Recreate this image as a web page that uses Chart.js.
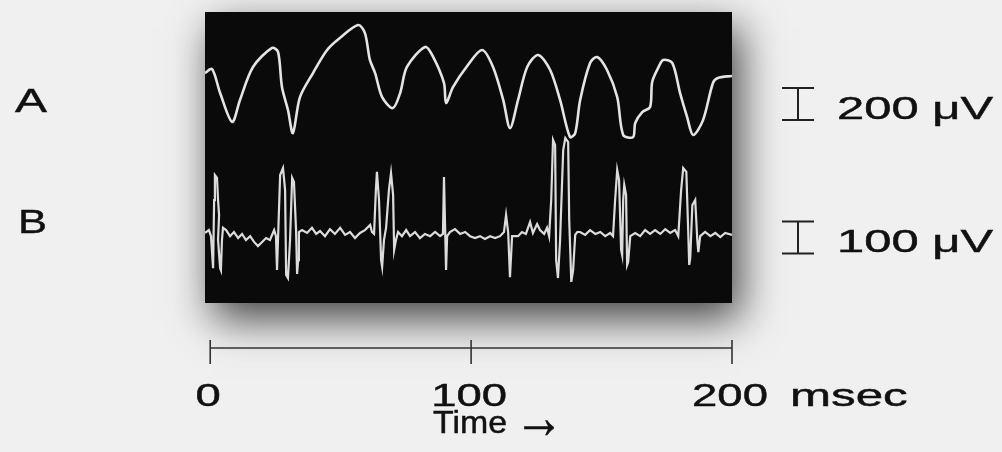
<!DOCTYPE html>
<html>
<head>
<meta charset="utf-8">
<script src="https://cdn.jsdelivr.net/npm/chart.js@4"></script>
<style>
  body { margin: 0; background: #f0f0f0; }
  canvas { display: block; }
</style>
</head>
<body>
<canvas id="trace" width="1002" height="452"></canvas>
<script>
// trace A: slow wave (time in msec, amplitude in microvolts)
var timeA = [-2.0, 0.7, 3.8, 8.4, 11.4, 16.4, 23.7, 26.0, 27.5, 29.8, 31.7, 34.4, 39.4, 44.8, 49.7, 56.7, 59.3, 61.2, 63.2, 65.9,
  70.0, 72.8, 75.4, 82.4, 85.5, 89.6, 90.4, 93.1, 98.5, 104.2, 108.4, 112.3, 114.9, 118.0, 121.5, 125.7, 130.3, 134.1, 137.9, 139.9,
  141.8, 145.6, 148.3, 152.1, 156.0, 158.3, 162.1, 162.9, 165.6, 168.6, 169.4, 171.7, 173.6, 177.1, 180.1, 182.8, 185.1, 188.9, 192.7, 194.6, 200.0];
var voltA = [106, 131, -19, -200, -62, 144, 263, 238, 19, -125, -269, -44, 106, 250, 325, 406, 356, 188, 106, -44,
  -113, -19, 144, 269, 206, 44, -81, 19, 150, 250, 144, -62, -238, -62, 144, 219, 125, -62, -294, -269,
  -62, 169, 206, 125, -44, -281, -294, -206, -138, -106, 50, 138, 188, 169, -19, -169, -281, -188, 44, 75, 88];

// trace B: unit spikes on a noisy baseline, several sweeps overlaid
var timeB = [-2.0, -0.5, 0.3, 1.1, 1.5, 1.8, 2.6, 3.0, 3.4, 3.0, 3.8, 4.1, 4.5, 4.9,
  6.1, 7.6, 9.1, 10.7, 12.2, 13.7, 15.3, 16.8, 18.3, 19.9, 21.4, 22.9, 24.5,
  25.2, 25.6, 26.8, 27.9, 28.7, 29.1, 29.8, 30.6, 31.4, 32.1, 32.9, 33.3, 33.7, 34.0,
  35.2, 37.1, 39.0, 40.6, 42.1, 44.0, 45.9, 47.8, 49.8, 51.7, 53.6, 55.5, 57.4, 59.3, 61.3, 62.0,
  62.8, 63.5, 63.9, 64.7, 65.5, 65.9, 66.6, 67.4, 68.5, 69.3, 70.1, 70.5, 71.2, 72.0,
  73.5, 75.1, 76.6, 78.5, 80.4, 82.3, 84.3, 86.2, 88.1,
  89.2, 89.6, 90.4, 90.8,
  91.9, 93.8, 95.8, 97.7, 99.6, 101.5, 103.4, 105.3, 107.3, 109.2, 111.1, 112.6,
  113.4, 114.2, 114.9, 115.7,
  118.0, 119.5, 121.0, 122.6, 123.7, 125.3, 126.4, 128.0, 129.1,
  129.9, 130.7, 131.4, 132.2, 132.6, 133.3, 134.1, 135.3, 136.1, 137.2, 137.6, 138.4, 139.1, 139.9, 140.7,
  141.8, 143.7, 145.6, 147.6, 149.5, 151.4, 153.3,
  154.4, 155.2, 156.0, 156.7, 157.5, 157.9, 158.3, 158.7, 159.4, 159.8, 160.2, 161.0,
  162.9, 164.8, 166.7, 168.6, 170.5, 172.5, 174.4, 176.3, 178.2,
  179.4, 180.5, 181.3, 182.5, 183.2, 183.6, 184.0, 184.8, 185.9, 186.7, 187.1, 187.8,
  189.7, 191.7, 193.6, 195.5, 197.4, 200.0];
var voltB = [-3, 6, -13, -113, 100, 178, 169, 100, 53, -25, -113, -119, -25, 13,
  6, -13, 0, -19, -6, -25, -13, -31, -44, -31, -19, -25, 6,
  -13, -119, 178, 200, 131, -134, -144, -25, 169, 156, 6, -131, -88, 0,
  6, -3, 13, -6, 3, -13, 9, -6, 13, -9, 0, -19, -3, 6, 22, 0,
  -6, 131, 188, 100, -88, -109, -25, 13, 131, 184, 116, -56, -25, 0,
  -13, 6, -13, 0, -19, -6, -13, 0, -13,
  -6, 172, -119, -13,
  0, 9, -6, 0, -13, -19, -13, -22, -13, -19, -13, 0,
  53, 0, -141, -13,
  -13, 0, -6, 31, -3, 25, 6, -6, 13,
  -13, 100, 288, 272, -88, -144, -25, 256, 294, 281, 38, -156, -119, -9, 0,
  0, -9, 6, -6, 0, -13, -3,
  -13, 100, 194, 163, -56, -72, 100, 147, 116, -103, -94, -13,
  -3, -13, 6, -6, 6, -6, 9, -3, 6,
  -13, 131, 200, 188, 6, -103, -81, 84, 100, -25, -63, -13,
  0, -13, -3, -16, -3, -9];

var traceNames = ['A', 'B'];
var timeTicks = [0, 100, 200];
var tickLabels = ['0', '100', '200'];
var timeUnit = 'msec';
var timeTitle = 'Time';
var timeArrow = '\u2192';
var barValues = [200, 100];
var barLabels = ['200 \u03bcV', '100 \u03bcV'];

function pairs(xs, ys) {
  return xs.map(function(x, i) { return { x: x, y: ys[i] }; });
}

// text in the figure is set wide: stretch it sideways, with a thin outline for weight
function wideText(ctx, text, x, y, sx, align, weight, sy) {
  ctx.save();
  ctx.translate(x, y);
  ctx.scale(sx, sy || 1);
  ctx.textAlign = align || 'left';
  ctx.fillText(text, 0, 0);
  if (weight !== 0) {
    ctx.lineWidth = weight || 0.45;
    ctx.strokeStyle = ctx.fillStyle;
    ctx.strokeText(text, 0, 0);
  }
  ctx.restore();
}

function fitText(ctx, text, x, y, w, weight, sy) {
  var m = ctx.measureText(text).width;
  wideText(ctx, text, x, y, w / m, 'left', weight, sy);
}

var scopeFrame = {
  id: 'scopeFrame',
  beforeDraw: function(chart) {
    var ctx = chart.ctx, a = chart.chartArea;
    ctx.save();
    ctx.fillStyle = '#f0f0f0';
    ctx.fillRect(0, 0, chart.width, chart.height);
    ctx.shadowColor = 'rgba(0,0,0,0.72)';
    ctx.shadowBlur = 40;
    ctx.shadowOffsetX = 8;
    ctx.shadowOffsetY = 16;
    ctx.fillStyle = '#0a0a0a';
    ctx.fillRect(a.left, a.top, a.right - a.left, a.bottom - a.top);
    ctx.restore();
  },
  afterDraw: function(chart) {
    var ctx = chart.ctx;
    var x = chart.scales.x, yA = chart.scales.yA, yB = chart.scales.yB;
    ctx.save();
    ctx.fillStyle = '#111';
    ctx.textBaseline = 'alphabetic';

    // trace names
    ctx.font = '34px "Liberation Sans", Arial, sans-serif';
    fitText(ctx, traceNames[0], 15, 112, 32);
    fitText(ctx, traceNames[1], 18, 233, 29);

    // calibration bars, sized from each trace's own scale
    var bars = [
      { axis: yA, mid: 104, base: 119 },
      { axis: yB, mid: 237.5, base: 252 }
    ];
    ctx.font = '32px "Liberation Sans", Arial, sans-serif';
    bars.forEach(function(b, i) {
      var h = Math.abs(b.axis.getPixelForValue(0) - b.axis.getPixelForValue(barValues[i]));
      var top = b.mid - h / 2, bot = b.mid + h / 2;
      var cx = 798, half = 16;
      ctx.lineWidth = 2;
      ctx.strokeStyle = '#222';
      ctx.beginPath();
      ctx.moveTo(cx - half, top); ctx.lineTo(cx + half, top);
      ctx.moveTo(cx, top); ctx.lineTo(cx, bot);
      ctx.moveTo(cx - half, bot); ctx.lineTo(cx + half, bot);
      ctx.stroke();
      fitText(ctx, barLabels[i], 837, b.base, 156);
    });

    // time axis below the screen
    var axisY = 348;
    var x0 = x.getPixelForValue(timeTicks[0]);
    var x1 = x.getPixelForValue(timeTicks[timeTicks.length - 1]);
    ctx.lineWidth = 1.6;
    ctx.strokeStyle = '#333';
    ctx.beginPath();
    ctx.moveTo(x0, axisY); ctx.lineTo(x1, axisY);
    timeTicks.forEach(function(t) {
      var px = x.getPixelForValue(t);
      ctx.moveTo(px, axisY - 8); ctx.lineTo(px, axisY + 16);
    });
    ctx.stroke();

    timeTicks.forEach(function(t, i) {
      var px = x.getPixelForValue(t);
      wideText(ctx, tickLabels[i], px - 2, 406, 1.42, 'center');
    });
    wideText(ctx, timeUnit, x1 + 58, 406, 1.54, 'left');
    fitText(ctx, timeTitle, 433, 433, 74);
    ctx.font = '44px "Liberation Sans", Arial, sans-serif';
    fitText(ctx, timeArrow, 514, 438, 50, 0.3, 1.4);
    ctx.restore();
  }
};

var chart = new Chart(document.getElementById('trace'), {
  type: 'line',
  data: {
    datasets: [{
      label: traceNames[0],
      data: pairs(timeA, voltA),
      yAxisID: 'yA',
      borderColor: '#e4e4e4',
      borderWidth: 2.6,
      tension: 0.3,
      pointRadius: 0
    }, {
      label: traceNames[1],
      data: pairs(timeB, voltB),
      yAxisID: 'yB',
      borderColor: '#dcdcdc',
      borderWidth: 2.2,
      tension: 0,
      pointRadius: 0
    }]
  },
  options: {
    responsive: false,
    animation: false,
    events: [],
    layout: { padding: { left: 205, right: 270, top: 12, bottom: 149 } },
    scales: {
      x: { type: 'linear', min: -2, max: 200, display: false },
      yA: { type: 'linear', min: -1331, max: 487.5, display: false },
      yB: { type: 'linear', min: -222, max: 688, display: false }
    },
    plugins: {
      legend: { display: false },
      tooltip: { enabled: false }
    }
  },
  plugins: [scopeFrame]
});
</script>
</body>
</html>
